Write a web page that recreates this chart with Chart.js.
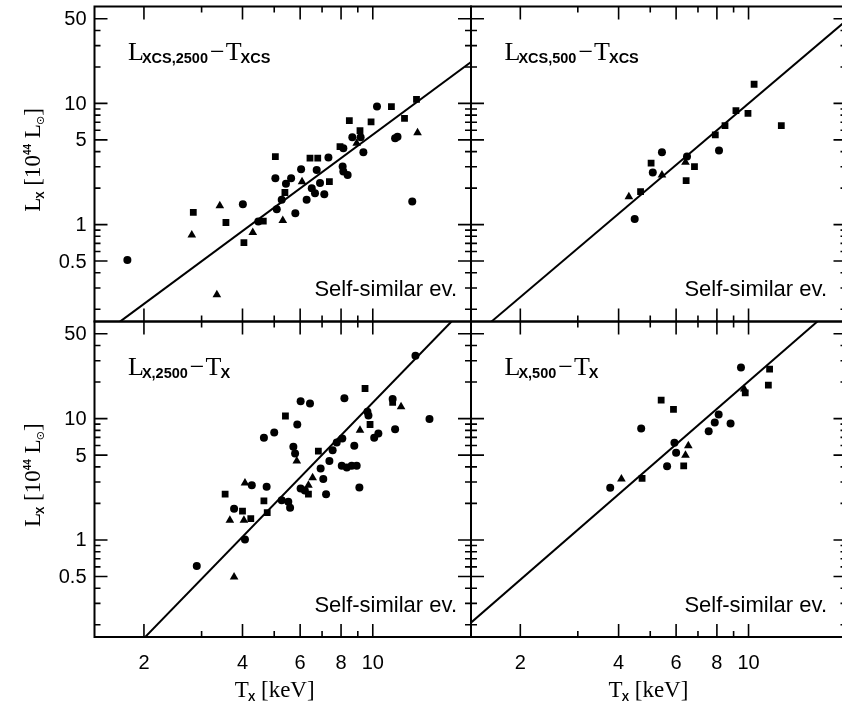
<!DOCTYPE html>
<html>
<head>
<meta charset="utf-8">
<title>L-T relations</title>
<script src="https://cdn.jsdelivr.net/npm/chart.js@4.4.1/dist/chart.umd.min.js"></script>
<style>
  html, body { margin: 0; padding: 0; background: #fff; overflow: hidden; }
  #wrap { position: relative; width: 842px; height: 709px; overflow: hidden; }
  #wrap canvas { position: absolute; left: 0; top: 0; }
</style>
</head>
<body>
<div id="wrap">
  <canvas id="tl" width="860" height="709"></canvas>
  <canvas id="tr" width="860" height="709"></canvas>
  <canvas id="bl" width="860" height="709"></canvas>
  <canvas id="br" width="860" height="709"></canvas>
</div>
<script>
// --- axes ---
const T_RANGE = [1.4125, 19.953];
const L_RANGE = [0.1585, 63.096];
const T_TICKS = [2, 3, 4, 5, 6, 7, 8, 9, 10];
const T_LABELS = [2, 4, 6, 8, 10];
const L_TICKS = [0.2, 0.3, 0.4, 0.5, 0.6, 0.7, 0.8, 0.9, 1, 2, 3, 4, 5, 6, 7, 8, 9, 10, 20, 30, 40, 50];
const L_LABELS = [0.5, 1, 5, 10, 50];

// --- data: [T_X (keV), L_X (1e44)] ---
const tlCircles = [[1.78,0.51],[4.01,1.47],[4.47,1.06],[5.04,2.41],[5.09,1.34],[5.27,1.60],[5.43,2.17],
  [5.63,2.41],[5.80,1.24],[6.04,2.86],[6.28,1.60],[6.74,2.82],[6.51,1.99],[6.66,1.81],[6.9,2.2],[7.11,1.78],
  [7.32,3.57],[8.13,4.26],[8.09,3.01],[8.13,2.74],[8.38,2.57],[8.66,5.25],[9.18,5.25],[9.36,3.95],
  [10.3,9.41],[11.7,5.15],[11.9,5.32],[13.2,1.55]];
const tlSquares = [[2.83,1.26],[3.56,1.04],[4.04,0.71],[4.63,1.07],[5.04,3.64],[5.39,1.84],[6.43,3.53],
  [6.79,3.53],[7.37,2.26],[7.94,4.40],[8.48,7.21],[9.14,5.96],[9.88,7.03],[11.4,9.41],[12.5,7.54],[13.6,10.8]];
const tlTriangles = [[2.80,0.82],[3.41,1.43],[3.34,0.263],[4.30,0.86],[5.31,1.08],[6.08,2.26],[8.93,4.69],[13.7,5.74]];
const tlLine = [[1.69,0.158],[20,22.1]];

const trCircles = [[4.48,1.11],[5.09,2.69],[5.43,3.95],[6.48,3.64],[8.12,4.08]];
const trSquares = [[4.67,1.87],[5.03,3.21],[6.44,2.31],[6.83,3.01],[7.91,5.49],[8.47,6.56],[9.15,8.72],
  [9.96,8.29],[10.4,14.4],[12.6,6.56]];
const trTriangles = [[4.30,1.70],[5.43,2.57],[6.41,3.27]];
const trLine = [[1.63,0.158],[20,48.8]];

const blCircles = [[2.90,0.61],[3.77,1.81],[4.07,1.01],[4.27,2.82],[4.74,2.74],[4.65,6.94],[5.00,7.68],
  [5.27,2.12],[5.52,2.06],[5.59,1.84],[5.72,5.85],[5.79,5.15],[5.88,8.94],[6.02,13.9],[6.43,13.3],
  [6.02,2.65],[6.20,2.55],[6.93,3.88],[7.06,3.17],[7.20,2.38],[7.37,4.48],[7.54,5.49],[7.76,6.35],
  [8.07,6.85],[8.19,14.7],[8.04,4.08],[8.33,3.95],[8.62,4.08],[8.93,4.08],[9.10,2.70],[8.78,5.96],
  [9.63,11.4],[9.70,10.6],[10.1,6.94],[10.4,7.54],[11.5,14.5],[11.7,8.18],[13.5,33.0],[14.9,9.90]];
const blSquares = [[3.54,2.38],[4.00,1.73],[4.24,1.50],[4.65,2.10],[4.76,1.68],[5.41,10.5],[6.82,5.39],
  [6.36,2.38],[9.47,17.7],[9.81,8.94],[11.5,13.6]];
const blTriangles = [[3.66,1.45],[3.77,0.495],[4.07,2.95],[4.04,1.45],[5.86,4.48],[6.36,2.82],[6.55,3.25],
  [9.14,8.03],[12.2,12.5]];
const blLine = [[2.015,0.158],[17.4,63.1]];

const brCircles = [[3.77,2.69],[4.69,8.29],[5.93,6.31],[6.00,5.22],[5.63,4.05],[7.55,7.88],[7.88,9.29],
  [8.10,10.8],[8.81,9.11],[9.48,26.4]];
const brSquares = [[4.72,3.21],[5.40,14.2],[5.89,11.9],[6.33,4.08],[9.77,16.3],[11.6,25.6],[11.5,18.9]];
const brTriangles = [[4.08,3.17],[6.41,4.99],[6.54,5.96],[9.70,17.5]];
const brLine = [[1.40,0.204],[16.25,63.1]];

// --- fonts ---
const SERIF = '26px "Liberation Serif", "Times New Roman", serif';
const SUB = 'bold 14.5px "Liberation Sans", Arial, sans-serif';
const NUM = '20px "Liberation Sans", Arial, sans-serif';
const NOTE = '22px "Liberation Sans", Arial, sans-serif';
const AX = '23px "Liberation Serif", serif';
const AXSUB = 'bold 11px "Liberation Sans", sans-serif';

function drawParts(ctx, x, y, parts) {
  parts.forEach(p => {
    ctx.font = p.f;
    ctx.fillText(p.t, x, y + (p.dy || 0));
    x += ctx.measureText(p.t).width + (p.gap || 0);
  });
}
function partsWidth(ctx, parts) {
  let w = 0;
  parts.forEach(p => { ctx.font = p.f; w += ctx.measureText(p.t).width + (p.gap || 0); });
  return w;
}

const yTitle = [
  {t: 'L', f: AX, gap: -1}, {t: 'X', f: AXSUB, dy: 4}, {t: ' [10', f: AX},
  {t: '44', f: 'bold 10px "Liberation Sans", sans-serif', dy: -9}, {t: ' L', f: AX, gap: -1},
  {t: '\u2299', f: '11px "DejaVu Sans", sans-serif', dy: 4}, {t: ']', f: AX}
];
const xTitle = [
  {t: 'T', f: AX, gap: -1}, {t: 'X', f: AXSUB, dy: 4}, {t: ' [keV]', f: AX}
];

const framePlugin = {
  id: 'frame',
  afterDraw(chart, args, o) {
    const ctx = chart.ctx, a = chart.chartArea;
    const xs = chart.scales.x, ys = chart.scales.y;
    ctx.save();
    ctx.strokeStyle = '#000';
    ctx.fillStyle = '#000';
    ctx.lineWidth = 2;
    ctx.strokeRect(a.left, a.top, a.right - a.left, a.bottom - a.top);

    // inward ticks on all four sides
    ctx.lineWidth = 1.6;
    ctx.beginPath();
    T_TICKS.forEach(t => {
      const px = xs.getPixelForValue(t);
      const len = T_LABELS.includes(t) ? 13 : 6;
      ctx.moveTo(px, a.bottom); ctx.lineTo(px, a.bottom - len);
      ctx.moveTo(px, a.top); ctx.lineTo(px, a.top + len);
    });
    L_TICKS.forEach(v => {
      const py = ys.getPixelForValue(v);
      const len = L_LABELS.includes(v) ? 13 : 6;
      ctx.moveTo(a.left, py); ctx.lineTo(a.left + len, py);
      ctx.moveTo(a.right, py); ctx.lineTo(a.right - len, py);
    });
    ctx.stroke();

    if (o.yLabels) {
      ctx.font = NUM;
      ctx.textAlign = 'right';
      ctx.textBaseline = 'middle';
      L_LABELS.forEach(v => ctx.fillText(String(v), a.left - 8, ys.getPixelForValue(v) + 1));
      ctx.save();
      ctx.translate(40, (a.top + a.bottom) / 2 - 4);
      ctx.rotate(-Math.PI / 2);
      ctx.textAlign = 'left';
      ctx.textBaseline = 'alphabetic';
      drawParts(ctx, -partsWidth(ctx, yTitle) / 2, 0, yTitle);
      ctx.restore();
    }
    if (o.xLabels) {
      ctx.font = NUM;
      ctx.textAlign = 'center';
      ctx.textBaseline = 'middle';
      T_LABELS.forEach(t => ctx.fillText(String(t), xs.getPixelForValue(t), a.bottom + 26));
      ctx.textAlign = 'left';
      ctx.textBaseline = 'alphabetic';
      const cx = (a.left + Math.min(a.right, 842)) / 2 - 8;
      drawParts(ctx, cx - partsWidth(ctx, xTitle) / 2, a.bottom + 60, xTitle);
    }

    // panel title
    ctx.textAlign = 'left';
    ctx.textBaseline = 'alphabetic';
    drawParts(ctx, a.left + 33.5, a.top + 53.5, [
      {t: 'L', f: SERIF, gap: -2}, {t: o.lsub, f: SUB, dy: 3, gap: 2},
      {t: '\u2212', f: SERIF, gap: 1}, {t: 'T', f: SERIF, gap: -1}, {t: o.tsub, f: SUB, dy: 3}
    ]);

    ctx.font = NOTE;
    ctx.textAlign = 'right';
    ctx.fillText('Self-similar ev.', o.noteRight, a.bottom - 25.5);
    ctx.restore();
  }
};

const toXY = arr => arr.map(p => ({x: p[0], y: p[1]}));

function makePanel(id, box, circles, squares, triangles, line, opts) {
  const mark = (data, style, r) => ({
    data: toXY(data), pointStyle: style, pointRadius: r,
    pointBackgroundColor: '#000', pointBorderColor: '#000', pointBorderWidth: 0, showLine: false
  });
  new Chart(document.getElementById(id), {
    type: 'scatter',
    data: {
      datasets: [
        mark(circles, 'circle', 4),
        mark(squares, 'rect', 4.8),
        mark(triangles, 'triangle', 5),
        { data: toXY(line), showLine: true, borderColor: '#000', borderWidth: 2, pointRadius: 0 }
      ]
    },
    options: {
      responsive: false,
      animation: false,
      events: [],
      layout: { padding: { left: box[0], top: box[2], right: 860 - box[1], bottom: 709 - box[3] } },
      scales: {
        x: { type: 'logarithmic', min: T_RANGE[0], max: T_RANGE[1], display: false },
        y: { type: 'logarithmic', min: L_RANGE[0], max: L_RANGE[1], display: false }
      },
      plugins: { legend: { display: false }, tooltip: { enabled: false }, frame: opts }
    },
    plugins: [framePlugin]
  });
}

makePanel('tl', [94.5, 471, 6.5, 321.5], tlCircles, tlSquares, tlTriangles, tlLine,
  { lsub: 'XCS,2500', tsub: 'XCS', yLabels: true, xLabels: false, noteRight: 457 });
makePanel('tr', [471, 846.5, 6.5, 321.5], trCircles, trSquares, trTriangles, trLine,
  { lsub: 'XCS,500', tsub: 'XCS', yLabels: false, xLabels: false, noteRight: 827 });
makePanel('bl', [94.5, 471, 321.5, 637], blCircles, blSquares, blTriangles, blLine,
  { lsub: 'X,2500', tsub: 'X', yLabels: true, xLabels: true, noteRight: 457 });
makePanel('br', [471, 846.5, 321.5, 637], brCircles, brSquares, brTriangles, brLine,
  { lsub: 'X,500', tsub: 'X', yLabels: false, xLabels: true, noteRight: 827 });
</script>
</body>
</html>
